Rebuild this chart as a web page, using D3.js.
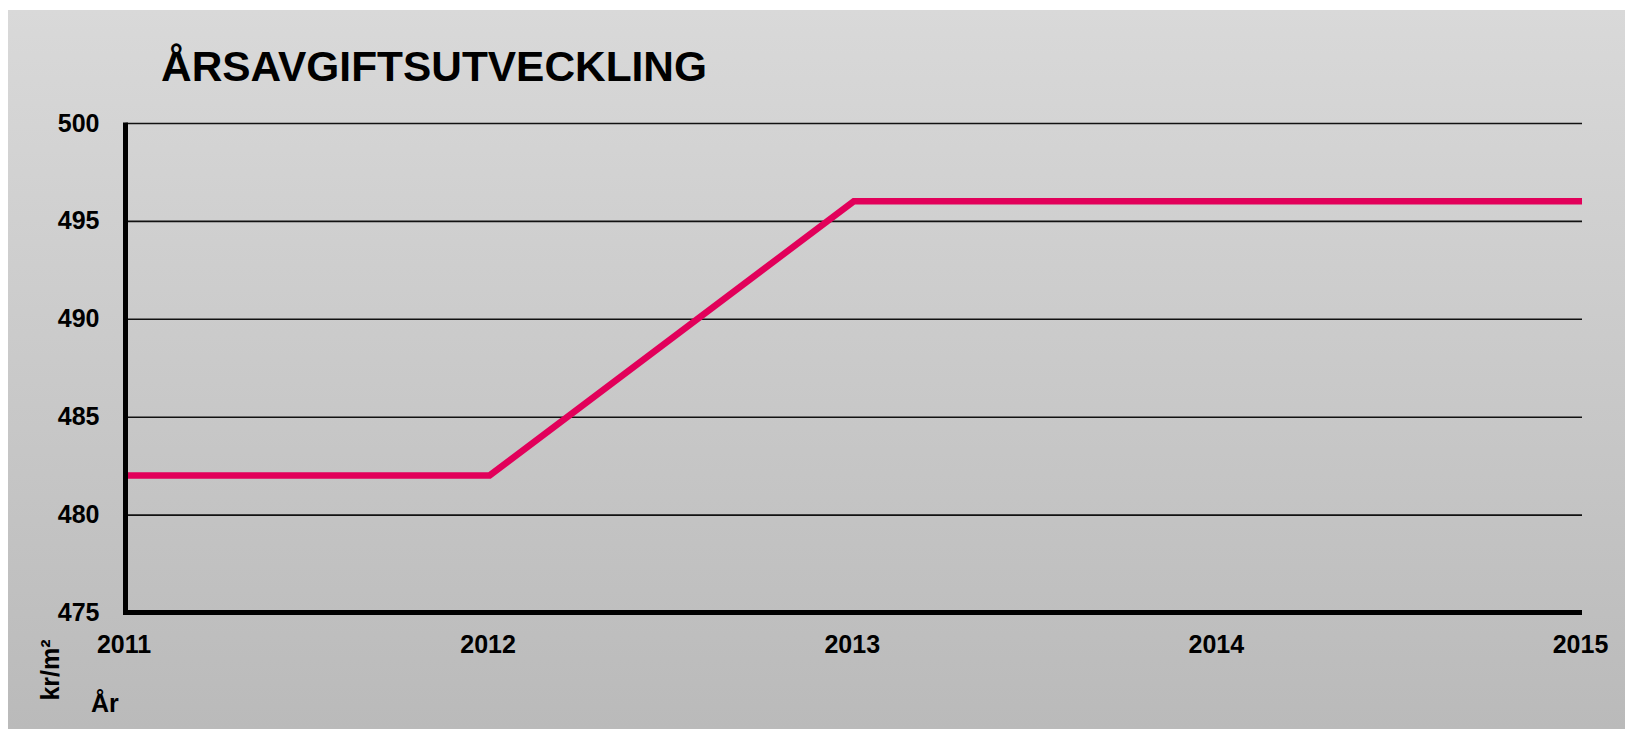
<!DOCTYPE html>
<html>
<head>
<meta charset="utf-8">
<script src="https://cdn.jsdelivr.net/npm/d3@7"></script>
<style>
  html, body { margin: 0; padding: 0; background: #fff; }
  svg { display: block; font-family: "Liberation Sans", Arial, sans-serif; }
</style>
</head>
<body>
<svg id="chart" width="1625" height="729"></svg>
<script>
// data
const years = [2011, 2012, 2013, 2014, 2015];
const fee = [482, 482, 496, 496, 496];
const yTicks = [475, 480, 485, 490, 495, 500];
const title = "ÅRSAVGIFTSUTVECKLING";
const yLabel = "kr/m²";
const xLabel = "År";

const W = 1625, H = 729;
const plot = { left: 125.5, right: 1582, top: 123, bottom: 612.5 };

const svg = d3.select("#chart");

// background panel with soft vertical gradient
const defs = svg.append("defs");
const grad = defs.append("linearGradient")
  .attr("id", "bg")
  .attr("x1", 0).attr("y1", 0).attr("x2", 0).attr("y2", 1);
grad.append("stop").attr("offset", "0%").attr("stop-color", "#d9d9d9");
grad.append("stop").attr("offset", "100%").attr("stop-color", "#bababa");

svg.append("rect")
  .attr("x", 8).attr("y", 10)
  .attr("width", W - 8).attr("height", H - 10)
  .attr("fill", "url(#bg)");

let x = d3.scaleLinear()
  .domain(d3.extent(years))
  .range([plot.left, plot.right]);
let y = d3.scaleLinear()
  .domain([475, 500])
  .range([plot.bottom, plot.top]);

// horizontal gridlines (not at the baseline)
svg.append("g")
  .attr("class", "grid")
  .attr("transform", "translate(" + plot.left + ",0)")
  .call(d3.axisLeft(y)
    .tickValues(yTicks.filter(d => d !== 475))
    .tickSize(-(plot.right - plot.left))
    .tickFormat(""))
  .call(g => g.select(".domain").remove())
  .call(g => g.selectAll(".tick line")
    .attr("stroke", "#111")
    .attr("stroke-width", 1.6));

// y tick labels
let yAxis = svg.append("g")
  .attr("class", "y-axis")
  .attr("transform", "translate(" + plot.left + ",0)")
  .call(d3.axisLeft(y).tickValues(yTicks).tickSize(0).tickPadding(26));
yAxis.select(".domain").remove();
yAxis.selectAll(".tick text")
  .attr("font-family", "Liberation Sans, Arial, sans-serif")
  .attr("font-size", 25)
  .attr("font-weight", "bold")
  .attr("fill", "#000")
  .attr("dy", "0.32em");

// x tick labels
let xAxis = svg.append("g")
  .attr("class", "x-axis")
  .attr("transform", "translate(0," + plot.bottom + ")")
  .call(d3.axisBottom(x).tickValues(years).tickFormat(d3.format("d")).tickSize(0).tickPadding(23));
xAxis.select(".domain").remove();
xAxis.selectAll(".tick text")
  .attr("font-family", "Liberation Sans, Arial, sans-serif")
  .attr("font-size", 25)
  .attr("font-weight", "bold")
  .attr("fill", "#000")
  .attr("dx", "-2");

// data line
const line = d3.line()
  .x((d, i) => x(years[i]))
  .y(d => y(d));

svg.append("path")
  .datum(fee)
  .attr("fill", "none")
  .attr("stroke", "#e2005a")
  .attr("stroke-width", 6.5)
  .attr("stroke-linejoin", "miter")
  .attr("d", line);

// thick axis frame: left and bottom
svg.append("path")
  .attr("fill", "none")
  .attr("stroke", "#000")
  .attr("stroke-width", 5)
  .attr("d", "M" + plot.left + "," + (plot.top - 0.5) +
             "V" + plot.bottom + "H" + plot.right);

// title
svg.append("text")
  .attr("x", 161).attr("y", 81)
  .attr("font-size", 43)
  .attr("font-weight", "bold")
  .attr("textLength", 546)
  .attr("lengthAdjust", "spacingAndGlyphs")
  .text(title);

// axis titles
svg.append("text")
  .attr("transform", "translate(59,670) rotate(-90)")
  .attr("text-anchor", "middle")
  .attr("font-size", 25)
  .attr("font-weight", "bold")
  .text(yLabel);

svg.append("text")
  .attr("x", 91).attr("y", 712)
  .attr("font-size", 25)
  .attr("font-weight", "bold")
  .text(xLabel);
</script>
</body>
</html>
